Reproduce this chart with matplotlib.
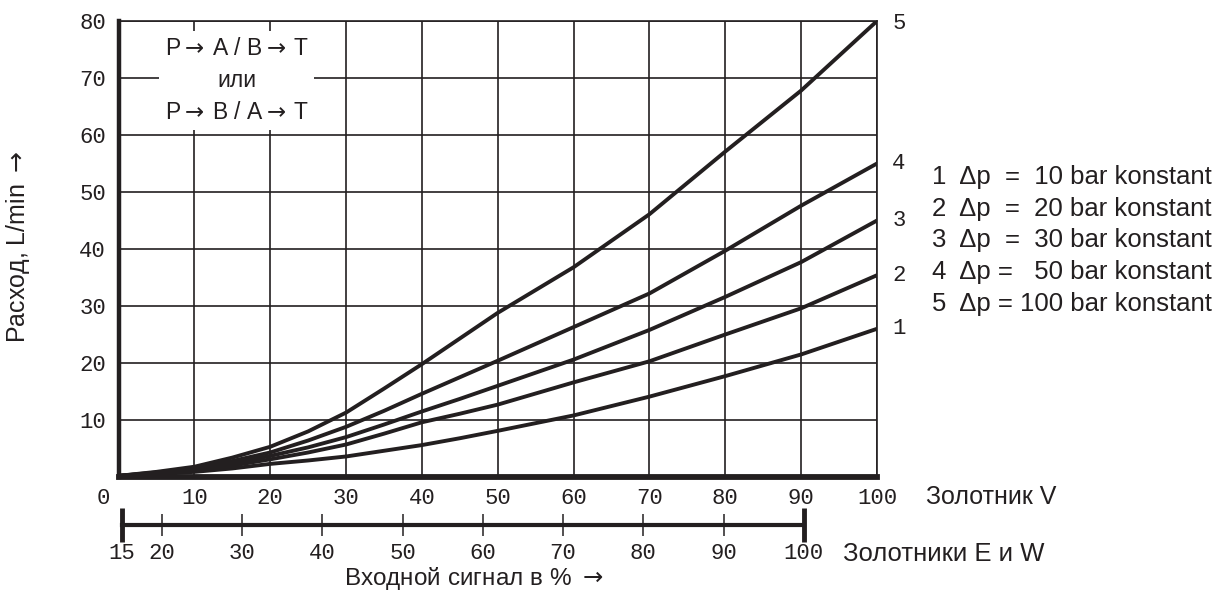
import matplotlib
matplotlib.use("Agg")
import matplotlib.pyplot as plt
from matplotlib.transforms import ScaledTranslation

# Flow curves: input signal (%) vs flow (L/min) at constant pressure drop
signal = [0, 5, 10, 15, 20, 25, 30, 35, 40, 45, 50, 60, 70, 80, 90, 100]
flow_10bar = [0.2, 0.5, 0.9, 1.5, 2.3, 2.9, 3.6, 4.6, 5.6, 6.8, 8.1, 10.8, 14.1, 17.7, 21.5, 26.0]
flow_20bar = [0.2, 0.6, 1.1, 2.0, 3.1, 4.3, 5.7, 7.6, 9.6, 11.1, 12.7, 16.6, 20.3, 25.0, 29.6, 35.4]
flow_30bar = [0.2, 0.7, 1.3, 2.4, 3.7, 5.2, 7.0, 9.2, 11.5, 13.7, 16.0, 20.6, 25.8, 31.6, 37.7, 45.0]
flow_50bar = [0.2, 0.8, 1.5, 2.8, 4.3, 6.4, 8.8, 11.6, 14.6, 17.5, 20.4, 26.3, 32.2, 39.7, 47.6, 55.0]
flow_100bar = [0.2, 0.9, 1.8, 3.4, 5.3, 8.0, 11.3, 15.5, 19.8, 24.3, 28.8, 36.8, 46.1, 57.1, 67.8, 80.0]
curves = [flow_10bar, flow_20bar, flow_30bar, flow_50bar, flow_100bar]
curve_ids = ['1', '2', '3', '4', '5']

legend_lines = [
    '1  \u0394p  =  10 bar konstant',
    '2  \u0394p  =  20 bar konstant',
    '3  \u0394p  =  30 bar konstant',
    '4  \u0394p =   50 bar konstant',
    '5  \u0394p = 100 bar konstant',
]

v_ticks = list(range(0, 101, 10))
y_ticks = list(range(10, 81, 10))
ew_ticks = [15, 20, 30, 40, 50, 60, 70, 80, 90, 100]

INK = '#231f20'
MONO = ['Liberation Mono', 'DejaVu Sans Mono']
SANS = ['Liberation Sans', 'DejaVu Sans']
NARROW = ['Liberation Sans Narrow', 'Liberation Sans', 'DejaVu Sans']
ARROW = r'$\rightarrow$'
BOX_ARROW = r'$\rightarrow\,$'

W, H = 1221, 592
fig = plt.figure(figsize=(W / 100, H / 100), dpi=100)


def fx(px):
    return px / W


def fy(py):
    return 1 - py / H


# main diagram
ax = fig.add_axes([fx(118.5), fy(477), fx(877) - fx(118.5), fy(21) - fy(477)])
ax.set_xlim(0, 100)
ax.set_ylim(0, 80)
ax.set_xticks(v_ticks)
ax.set_yticks(y_ticks)
ax.grid(True, color=INK, linewidth=1.2)
ax.set_axisbelow(True)
for side in ['top', 'right']:
    ax.spines[side].set_linewidth(1.2)
    ax.spines[side].set_color(INK)
ax.spines['left'].set_linewidth(3.2)
ax.spines['bottom'].set_linewidth(4.2)
ax.spines['left'].set_color(INK)
ax.spines['bottom'].set_color(INK)
ax.tick_params(length=0, labelsize=16, colors=INK)
ax.tick_params(axis='x', pad=8)
ax.tick_params(axis='y', pad=9)
for lab in ax.get_xticklabels() + ax.get_yticklabels():
    lab.set_family(MONO)
# the shared origin label sits left of the corner
ax.get_xticklabels()[0].set_transform(
    ax.get_xticklabels()[0].get_transform() + ScaledTranslation(-15 / 100, 0, fig.dpi_scale_trans))

for ys, cid in zip(curves, curve_ids):
    ax.plot(signal, ys, color=INK, linewidth=2.8, solid_capstyle='round', zorder=3)
    ax.text(102, ys[-1] + (0 if ys[-1] < 75 else -0.4), cid, fontsize=16, family=MONO,
            color=INK, ha='left', va='center', clip_on=False)

box_text = ('P' + BOX_ARROW + 'A / B' + BOX_ARROW + 'T\n'
            '\u0438\u043b\u0438\n'
            'P' + BOX_ARROW + 'B / A' + BOX_ARROW + 'T')
ax.text(15.6, 69.6, box_text,
        ha='center', va='center', fontsize=16.5, family=SANS, color=INK,
        linespacing=1.5, zorder=4,
        bbox=dict(facecolor='white', edgecolor='none', boxstyle='square,pad=0.25'))

ax.set_ylabel('\u0420\u0430\u0441\u0445\u043e\u0434, L/min ' + ARROW, fontsize=18,
              family=SANS, color=INK)
ax.yaxis.set_label_coords(-0.114, 0.506)

# legend block to the right of the diagram
for i, line in enumerate(legend_lines):
    fig.text(fx(932), fy(177 + i * 31.7), line, fontsize=18.5, family=SANS,
             color=INK, ha='left', va='center')

fig.text(fx(926), fy(497), '\u0417\u043e\u043b\u043e\u0442\u043d\u0438\u043a V',
         fontsize=18, family=NARROW, color=INK, ha='left', va='center')
fig.text(fx(843), fy(554), '\u0417\u043e\u043b\u043e\u0442\u043d\u0438\u043a\u0438 E \u0438 W',
         fontsize=18.5, family=NARROW, color=INK, ha='left', va='center')
fig.text(fx(474), fy(578),
         '\u0412\u0445\u043e\u0434\u043d\u043e\u0439 \u0441\u0438\u0433\u043d\u0430\u043b \u0432 % ' + ARROW,
         fontsize=17.5, family=SANS, color=INK, ha='center', va='center')

# second scale for spools E and W
ax2 = fig.add_axes([fx(122), fy(540), fx(803.7) - fx(122), fy(510) - fy(540)])
ax2.set_xlim(ew_ticks[0], ew_ticks[-1])
ax2.set_ylim(-1, 1)
ax2.patch.set_alpha(0)
for side in ['top', 'right', 'left']:
    ax2.spines[side].set_visible(False)
ax2.spines['bottom'].set_position(('data', 0))
ax2.spines['bottom'].set_linewidth(3)
ax2.spines['bottom'].set_color(INK)
ax2.set_yticks([])
ax2.set_xticks(ew_ticks)
ax2.tick_params(axis='x', direction='inout', length=16, width=1.1, colors=INK,
                labelsize=16, pad=5)
for lab in ax2.get_xticklabels():
    lab.set_family(MONO)
ax2.plot([ew_ticks[0], ew_ticks[-1]], [0, 0], linestyle='none', marker='|',
         markersize=24, markeredgewidth=3.5, color=INK, clip_on=False)

fig.savefig('out.png', dpi=100)
